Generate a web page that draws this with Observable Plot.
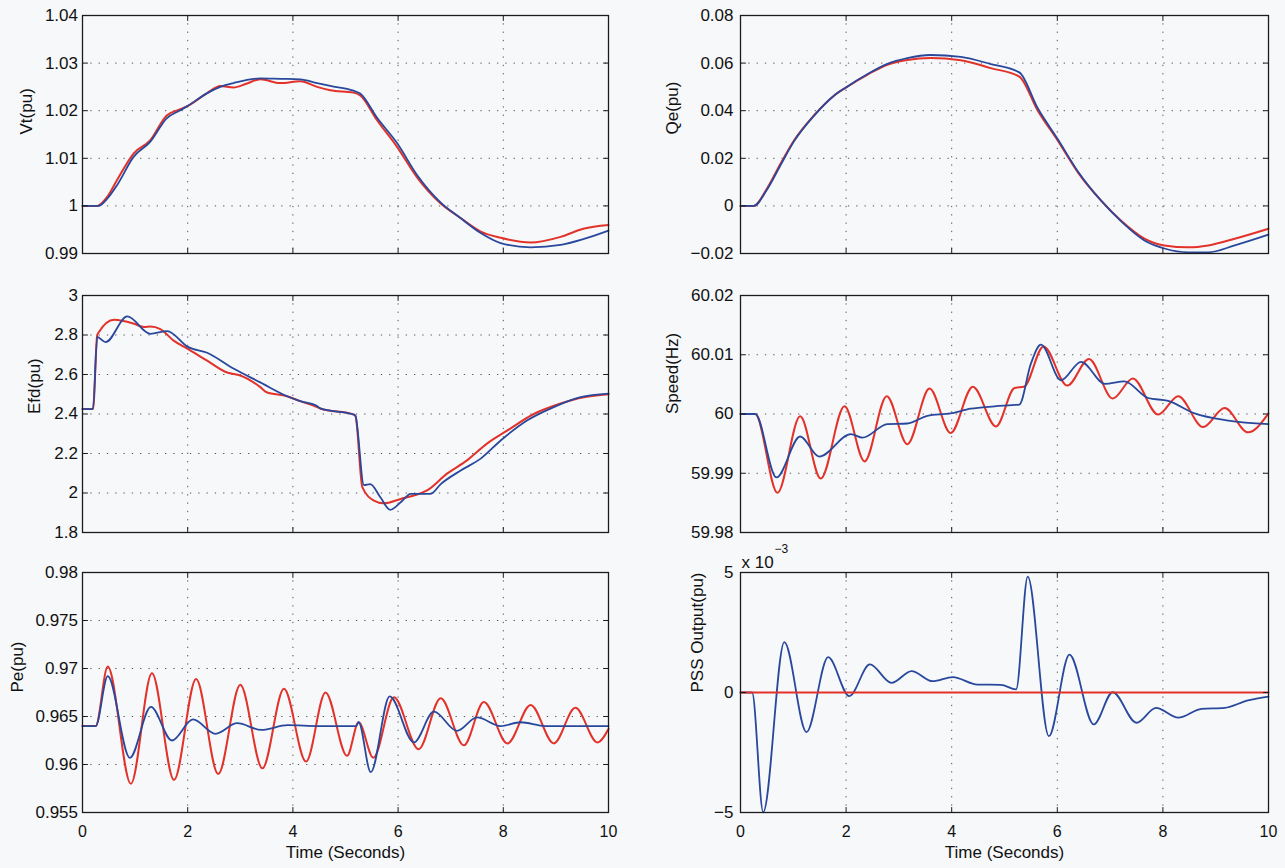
<!DOCTYPE html>
<html><head><meta charset="utf-8">
<script src="https://cdn.jsdelivr.net/npm/d3@7"></script>
<script src="https://cdn.jsdelivr.net/npm/@observablehq/plot@0.6"></script>
<style>
html,body{margin:0;padding:0;background:#f6f8fa;}
#wrap{position:relative;width:1285px;height:868px;overflow:hidden;font-family:"Liberation Sans",Arial,sans-serif;}
#wrap svg{position:absolute;overflow:visible;}
</style></head><body><div id="wrap"></div>
<script>
// ---------- shared axis data ----------
const timeTicks = [0, 2, 4, 6, 8, 10];
const timeLabel = "Time (Seconds)";

// ---------- Vt(pu) ----------
const vtRedT  = [0,0.28,0.47,0.66,0.97,1.29,1.6,1.86,2.0,2.37,2.62,2.87,3.1,3.38,3.76,4.14,4.46,4.71,5.15,5.28,5.6,5.98,6.36,6.8,7.18,7.57,7.95,8.52,9.09,9.52,10];
const vtRed   = [1.0,1.0,1.0019,1.0055,1.0110,1.0138,1.019,1.0203,1.021,1.0237,1.0252,1.0249,1.0256,1.0266,1.0258,1.0262,1.025,1.0243,1.0238,1.0232,1.018,1.0124,1.006,1.0006,0.9975,0.9946,0.9933,0.9923,0.9935,0.9952,0.996];
const vtBlueT = [0,0.3,0.47,0.66,0.97,1.29,1.6,1.86,2.0,2.37,2.62,2.87,3.38,3.76,4.14,4.46,4.71,5.15,5.28,5.6,5.98,6.36,6.8,7.18,7.57,7.95,8.52,9.09,9.52,10];
const vtBlue  = [1.0,1.0,1.0015,1.0044,1.0103,1.0135,1.0184,1.0201,1.021,1.0237,1.025,1.0258,1.0268,1.0267,1.0266,1.0258,1.0252,1.0242,1.0236,1.0185,1.0132,1.0065,1.0008,0.9975,0.9943,0.9922,0.9913,0.9918,0.993,0.9948];
const vtTicks = [0.99,1.0,1.01,1.02,1.03,1.04];

// ---------- Efd(pu) ----------
const efdRedT  = [0,0.2,0.28,0.31,0.6,0.98,1.17,1.29,1.48,1.74,2.0,2.37,2.75,3.0,3.38,3.5,3.89,4.14,4.46,4.52,5.16,5.19,5.32,5.54,5.73,6.05,6.3,6.55,6.93,7.31,7.69,8.08,8.58,9.09,9.53,10];
const efdRed   = [2.425,2.425,2.80,2.814,2.877,2.857,2.84,2.843,2.83,2.77,2.73,2.67,2.61,2.595,2.536,2.51,2.49,2.465,2.435,2.428,2.397,2.39,2.03,1.962,1.948,1.97,1.987,2.013,2.098,2.165,2.25,2.317,2.4,2.453,2.485,2.5];
const efdBlueT = [0,0.2,0.28,0.44,0.85,1.29,1.61,2.0,2.37,2.87,3.38,3.89,4.14,4.46,4.52,5.16,5.19,5.35,5.47,5.66,5.85,6.05,6.24,6.62,6.81,7.19,7.57,7.95,8.45,8.96,9.47,10];
const efdBlue  = [2.425,2.425,2.79,2.764,2.894,2.806,2.82,2.74,2.71,2.63,2.56,2.49,2.465,2.44,2.428,2.397,2.39,2.04,2.045,1.98,1.915,1.953,1.996,1.996,2.045,2.114,2.174,2.266,2.367,2.435,2.485,2.503];
const efdTicks = [1.8,2.0,2.2,2.4,2.6,2.8,3.0];

// ---------- Pe(pu) ----------
const peRedT  = [0,0.25,0.48,0.92,1.32,1.74,2.16,2.58,3.0,3.42,3.83,4.25,4.62,5.03,5.25,5.53,5.92,6.39,6.81,7.25,7.63,8.08,8.52,8.96,9.37,9.79,10];
const peRed   = [0.964,0.964,0.9702,0.958,0.9695,0.9584,0.9689,0.959,0.9683,0.9596,0.9679,0.9603,0.9675,0.9609,0.9644,0.9607,0.967,0.9616,0.9669,0.962,0.9665,0.9622,0.9662,0.9622,0.9659,0.9623,0.9637];
const peBlueT = [0,0.25,0.48,0.9,1.3,1.7,2.1,2.53,2.94,3.4,3.9,4.5,5.2,5.25,5.48,5.84,6.3,6.68,7.12,7.5,7.95,8.33,8.8,10];
const peBlue  = [0.964,0.964,0.9692,0.9607,0.966,0.9625,0.9647,0.9632,0.9643,0.9636,0.9641,0.964,0.964,0.9644,0.9592,0.9671,0.9623,0.9655,0.9635,0.9649,0.964,0.9644,0.964,0.964];
const peTicks = [0.955,0.96,0.965,0.97,0.975,0.98];

// ---------- Qe(pu) ----------
const qeRedT  = [0,0.25,0.5,0.76,1.01,1.39,1.77,2.0,2.4,2.78,3.16,3.6,4.17,4.74,5.28,5.63,6.01,6.39,6.83,7.21,7.65,8.03,8.48,8.86,9.36,10];
const qeRed   = [0,0,0.0072,0.0178,0.0274,0.038,0.0463,0.0498,0.0551,0.0593,0.0613,0.0621,0.0612,0.0579,0.0543,0.040,0.0274,0.0141,0.0022,-0.0062,-0.0137,-0.0166,-0.0174,-0.0166,-0.0138,-0.0096];
const qeBlueT = qeRedT;
const qeBlue  = [0,0,0.0068,0.0172,0.027,0.0378,0.0463,0.0498,0.0553,0.0597,0.0621,0.0634,0.0626,0.0596,0.0561,0.041,0.028,0.0145,0.0022,-0.0065,-0.0145,-0.0179,-0.0195,-0.0195,-0.0166,-0.0121];
const qeTicks = [-0.02,0,0.02,0.04,0.06,0.08];

// ---------- Speed(Hz) ----------
const spRedT  = [0,0.28,0.7,1.13,1.52,1.97,2.35,2.77,3.16,3.58,3.98,4.4,4.84,5.19,5.37,5.74,6.19,6.6,7.05,7.43,7.91,8.29,8.76,9.17,9.61,10];
const spRed   = [60,60,59.9867,59.9996,59.9891,60.0013,59.992,60.003,59.9949,60.0043,59.9968,60.0046,59.9979,60.0044,60.0046,60.0114,60.0048,60.0093,60.0026,60.006,59.9999,60.003,59.9978,60.001,59.9969,60.0001];
const spBlueT = [0,0.28,0.68,1.13,1.49,2.09,2.31,2.78,3.16,3.54,3.98,4.36,4.81,5.28,5.5,5.69,6.07,6.45,6.9,7.27,7.72,8.1,8.6,9.24,10];
const spBlue  = [60,60,59.9893,59.9962,59.9928,59.9966,59.996,59.9983,59.9984,59.9997,60.0001,60.0009,60.0013,60.0016,60.0085,60.0117,60.0057,60.0088,60.0051,60.0055,60.0027,60.0022,60.0001,59.9989,59.9983];
const spTicks = [59.98,59.99,60.0,60.01,60.02];

// ---------- PSS Output(pu), x 10^-3 ----------
const pssRedT  = [0,10];
const pssRed   = [0,0];
const pssBlueT = [0,0.22,0.43,0.83,1.25,1.66,2.06,2.45,2.86,3.24,3.64,4.02,4.49,4.93,5.22,5.44,5.84,6.23,6.69,7.05,7.5,7.87,8.29,8.73,9.17,9.61,10];
const pssBlue  = [0,0,-4.99,2.1,-1.65,1.47,-0.15,1.17,0.4,0.89,0.47,0.64,0.33,0.32,0.13,4.83,-1.82,1.58,-1.33,0.01,-1.26,-0.64,-1.05,-0.68,-0.64,-0.33,-0.17];
const pssTicks = [-5,0,5];

// ---------- build ----------
const RED = "#e2322a", BLUE = "#29489c";
const FONT = "Liberation Sans, Arial, sans-serif";
const zip = (T, V) => T.map((t, i) => ({t, v: V[i]}));
const minus = s => String(s).replace("-", "\u2212");

const cols = [
  {left: 0,   width: 640, ml: 82,  mr: 32, pad: 4.5},
  {left: 640, width: 645, ml: 100, mr: 17, pad: 7}
];
const rows = [
  {top: 0,   height: 275, mt: 15, mb: 22},
  {top: 275, height: 280, mt: 20, mb: 23},
  {top: 555, height: 313, mt: 17, mb: 56}
];

const panels = [
  {c:0, r:0, label:"Vt(pu)",   ldx:-56, ticks: vtTicks,  fmt: d => String(+d.toFixed(2)), red: zip(vtRedT, vtRed),  blue: zip(vtBlueT, vtBlue)},
  {c:0, r:1, label:"Efd(pu)",  ldx:-48, ticks: efdTicks, fmt: d => String(+d.toFixed(1)), red: zip(efdRedT, efdRed), blue: zip(efdBlueT, efdBlue)},
  {c:0, r:2, label:"Pe(pu)",   ldx:-65, ticks: peTicks,  fmt: d => String(+d.toFixed(3)), red: zip(peRedT, peRed),  blue: zip(peBlueT, peBlue), showX: true},
  {c:1, r:0, label:"Qe(pu)",   ldx:-68, ticks: qeTicks,  fmt: d => minus(+d.toFixed(2)), red: zip(qeRedT, qeRed),  blue: zip(qeBlueT, qeBlue)},
  {c:1, r:1, label:"Speed(Hz)",ldx:-68, ticks: spTicks,  fmt: d => String(+d.toFixed(2)), red: zip(spRedT, spRed),  blue: zip(spBlueT, spBlue)},
  {c:1, r:2, label:"PSS Output(pu)", ldx:-43, ticks: pssTicks, fmt: d => minus(d), red: zip(pssRedT, pssRed), blue: zip(pssBlueT, pssBlue), showX: true, redOnTop: true, exp: true}
];

const tickShape = {draw(context, l) { context.moveTo(0, 0); context.lineTo(0, -l); }};
const wrap = document.getElementById("wrap");

function build(p, withTicks) {
  const col = cols[p.c], row = rows[p.r];
  const yDom = [p.ticks[0], p.ticks[p.ticks.length - 1]];
  const innerY = p.ticks.slice(1, -1);
  const innerX = timeTicks.slice(1, -1);
  const grid = {stroke: "#3a3a3a", strokeWidth: 1, strokeDasharray: "1.3,7", strokeOpacity: 0.85};
  const redLine = Plot.line(p.red, {x: "t", y: "v", stroke: RED, strokeWidth: 2, curve: "monotone-x"});
  const blueLine = Plot.line(p.blue, {x: "t", y: "v", stroke: BLUE, strokeWidth: 1.8, curve: "monotone-x"});
  const marks = [
    Plot.ruleX(innerX, grid),
    Plot.ruleY(innerY, grid),
    ...(p.redOnTop ? [blueLine, redLine] : [redLine, blueLine]),
    Plot.frame({stroke: "#1b1b1b", strokeWidth: 1.3}),
    Plot.axisY(p.ticks, {tickSize: 0, tickPadding: col.pad, tickFormat: p.fmt, label: null, fontSize: 17, fill: "#111"}),
    Plot.text([p.label], {text: d => d, frameAnchor: "left", dx: p.ldx, rotate: -90, fontSize: 17, fill: "#111"})
  ];
  if (withTicks) {
    const tk = {length: 5, anchor: "start", shape: tickShape, stroke: "#1b1b1b", strokeWidth: 1};
    marks.push(
      Plot.vector(timeTicks, {...tk, x: d => d, frameAnchor: "bottom", rotate: 0}),
      Plot.vector(timeTicks, {...tk, x: d => d, frameAnchor: "top", rotate: 180}),
      Plot.vector(p.ticks, {...tk, y: d => d, frameAnchor: "left", rotate: 90}),
      Plot.vector(p.ticks, {...tk, y: d => d, frameAnchor: "right", rotate: -90})
    );
  }
  if (p.showX) {
    marks.push(
      Plot.axisX(timeTicks, {tickSize: 0, tickPadding: 13, label: null, fontSize: 16, fill: "#111"}),
      Plot.text([timeLabel], {text: d => d, frameAnchor: "bottom", dy: 45, fontSize: 17, fill: "#111"})
    );
  }
  if (p.exp) {
    marks.push(
      Plot.text(["x 10"], {text: d => d, frameAnchor: "top-left", textAnchor: "start", dx: 1, dy: -17, fontSize: 17, fill: "#111"}),
      Plot.text(["\u22123"], {text: d => d, frameAnchor: "top-left", textAnchor: "start", dx: 34, dy: -28, fontSize: 12, fill: "#111"})
    );
  }
  return Plot.plot({
    width: col.width, height: row.height,
    marginLeft: col.ml, marginRight: col.mr, marginTop: row.mt, marginBottom: row.mb,
    style: {background: "transparent", fontFamily: FONT, fontSize: "17px", color: "#111", overflow: "visible"},
    x: {domain: [0, 10], axis: p.showX ? undefined : null},
    y: {domain: yDom, axis: null},
    marks
  });
}

for (const p of panels) {
  let svg;
  try { svg = build(p, true); } catch (e) { svg = build(p, false); }
  const col = cols[p.c], row = rows[p.r];
  svg.style.left = col.left + "px";
  svg.style.top = row.top + "px";
  wrap.appendChild(svg);
}
</script></body></html>
